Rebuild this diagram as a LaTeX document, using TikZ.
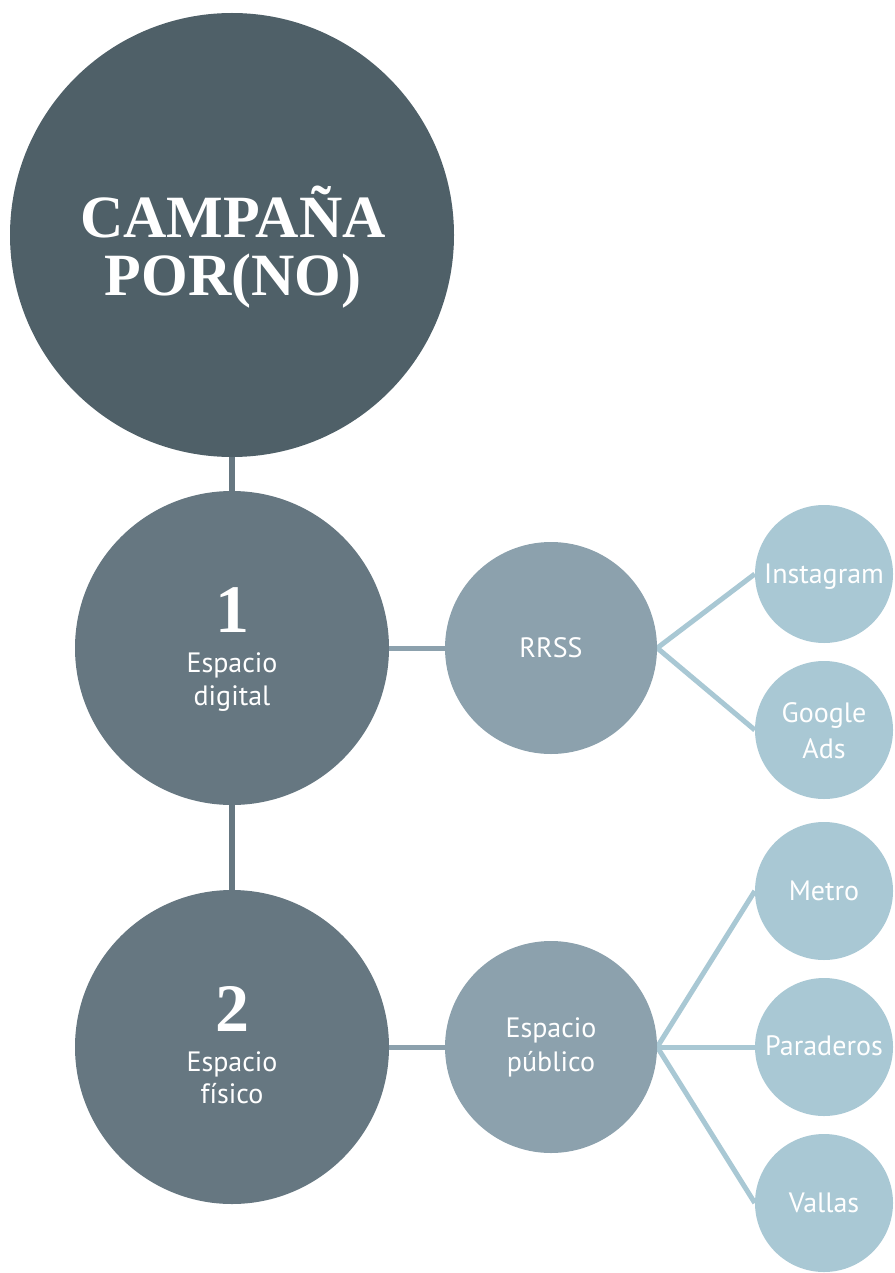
\documentclass[tikz,border=0pt]{standalone}
\usepackage{fontspec}
\setmainfont{PT Sans}
\newfontfamily\titlefont{Liberation Serif}[BoldFont={* Bold}]
\usetikzlibrary{backgrounds}
\definecolor{cmain}{HTML}{4F6068}
\definecolor{clevA}{HTML}{667781}
\definecolor{clevB}{HTML}{8CA1AD}
\definecolor{clevC}{HTML}{A9C8D4}
\tikzset{
  bub/.style={circle, inner sep=0pt, draw=none},
  mainbub/.style={bub, fill=cmain, minimum size=444pt},
  abub/.style={bub, fill=clevA, minimum size=314pt},
  bbub/.style={bub, fill=clevB, minimum size=212pt},
  cbub/.style={bub, fill=clevC, minimum size=138pt},
  lab/.style={anchor=base, text=white, inner sep=0pt, font=\fontsize{28}{28}\selectfont},
  ttl/.style={anchor=base, text=white, inner sep=0pt, font=\titlefont\bfseries\fontsize{60}{60}\selectfont},
  num/.style={anchor=base, text=white, inner sep=0pt, font=\titlefont\bfseries\fontsize{68}{68}\selectfont},
  linkA/.style={draw=clevA, line width=5.5pt},
  linkB/.style={draw=clevB, line width=5pt},
  linkC/.style={draw=clevC, line width=5pt},
}
\begin{document}
\begin{tikzpicture}[x=1pt,y=-1pt]
\useasboundingbox (0,0) rectangle (894,1273);
% circles
\node[mainbub] (main) at (232,235) {};
\node[abub] (one) at (232,648) {};
\node[abub] (two) at (232,1047) {};
\node[bbub] (rrss) at (551,648) {};
\node[bbub] (pub) at (551,1047) {};
\node[cbub] (insta) at (824,574) {};
\node[cbub] (gads) at (824,730) {};
\node[cbub] (metro) at (824,891) {};
\node[cbub] (para) at (824,1047) {};
\node[cbub] (vallas) at (824,1203) {};
% connectors
\begin{scope}[on background layer]
\draw[linkA] (main.south) -- (one.north);
\draw[linkA] (one.south) -- (two.north);
\draw[linkB] (one.east) -- (rrss.west);
\draw[linkB] (two.east) -- (pub.west);
\draw[linkC] (rrss.east) -- (insta.west);
\draw[linkC] (rrss.east) -- (gads.west);
\draw[linkC] (pub.east) -- (metro.west);
\draw[linkC] (pub.east) -- (para.west);
\draw[linkC] (pub.east) -- (vallas.west);
\end{scope}
% texts
\node[ttl] (t1) at (233,237) {CAMPAÑA};
\node[ttl] (t2) at (233,295) {POR(NO)};
\node[num] (n1) at (232,632) {1};
\node[lab] (e1) at (232,672) {Espacio};
\node[lab] (d1) at (232,705) {digital};
\node[num] (n2) at (232,1031) {2};
\node[lab] (e2) at (232,1071) {Espacio};
\node[lab] (f2) at (232,1103) {físico};
\node[lab] (tr) at (551,657) {RRSS};
\node[lab] (tp1) at (551,1037) {Espacio};
\node[lab] (tp2) at (551,1071) {público};
\node[lab] (ti) at (824,583) {Instagram};
\node[lab] (tg1) at (824,722) {Google};
\node[lab] (tg2) at (824,758) {Ads};
\node[lab] (tm) at (824,900) {Metro};
\node[lab] (tpa) at (824,1055) {Paraderos};
\node[lab] (tv) at (824,1212) {Vallas};
\end{tikzpicture}
\end{document}
